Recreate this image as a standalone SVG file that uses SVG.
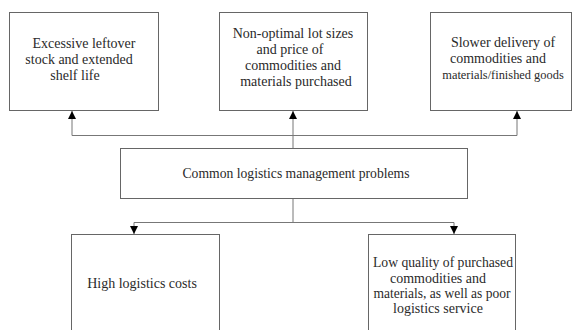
<svg xmlns="http://www.w3.org/2000/svg" width="573" height="330" viewBox="0 0 573 330">
  <style>
    .box { fill: #ffffff; stroke: #666666; stroke-width: 1; }
    .wire { fill: none; stroke: #777777; stroke-width: 1; }
    text { font-family: "Liberation Serif", "Times New Roman", serif; font-size: 14px; fill: #2a2a2a; text-anchor: middle; }
    .tight { font-size: 12.4px; }
  </style>
  <defs>
    <marker id="arrow" viewBox="0 0 8 8" refX="8" refY="4" markerWidth="8" markerHeight="8" markerUnits="userSpaceOnUse" orient="auto">
      <path d="M0,0 L8,4 L0,8 Z" fill="#000000"/>
    </marker>
  </defs>
  <rect width="573" height="330" fill="#ffffff"/>

  <g id="connectors">
    <!-- upward branch -->
    <line class="wire" x1="293" y1="148.5" x2="293" y2="111" marker-end="url(#arrow)"/>
    <polyline class="wire" points="293,135.5 72,135.5 72,111" marker-end="url(#arrow)"/>
    <polyline class="wire" points="293,135.5 517,135.5 517,111" marker-end="url(#arrow)"/>
    <!-- downward branch -->
    <line class="wire" x1="293" y1="198.5" x2="293" y2="222.5"/>
    <polyline class="wire" points="293,222.5 134,222.5 134,234" marker-end="url(#arrow)"/>
    <polyline class="wire" points="293,222.5 454,222.5 454,234" marker-end="url(#arrow)"/>
  </g>

  <g id="leftover-stock">
    <rect class="box" x="9.5" y="12.5" width="149" height="98"/>
    <text x="84" y="48">Excessive leftover</text>
    <text x="79" y="64">stock and extended</text>
    <text x="75" y="80">shelf life</text>
  </g>

  <g id="lot-sizes">
    <rect class="box" x="219.5" y="12.5" width="148" height="98"/>
    <text x="293" y="38">Non-optimal lot sizes</text>
    <text x="290" y="54">and price of</text>
    <text x="293" y="70">commodities and</text>
    <text x="296" y="86">materials purchased</text>
  </g>

  <g id="slower-delivery">
    <rect class="box" x="430.5" y="12.5" width="141" height="98"/>
    <text x="503" y="47">Slower delivery of</text>
    <text x="498" y="63">commodities and</text>
    <text class="tight" x="503" y="79">materials/finished goods</text>
  </g>

  <g id="common-problems">
    <rect class="box" x="120.5" y="148.5" width="347" height="50"/>
    <text x="296" y="178" textLength="227" lengthAdjust="spacingAndGlyphs">Common logistics management problems</text>
  </g>

  <g id="high-costs">
    <rect class="box" x="71.5" y="234.5" width="148" height="100"/>
    <text x="142" y="288">High logistics costs</text>
  </g>

  <g id="low-quality">
    <rect class="box" x="368.5" y="234.5" width="147" height="100"/>
    <text x="443" y="267" textLength="140" lengthAdjust="spacingAndGlyphs">Low quality of purchased</text>
    <text x="438" y="283">commodities and</text>
    <text x="442" y="298" textLength="137" lengthAdjust="spacingAndGlyphs">materials, as well as poor</text>
    <text x="438" y="313">logistics service</text>
  </g>
</svg>
